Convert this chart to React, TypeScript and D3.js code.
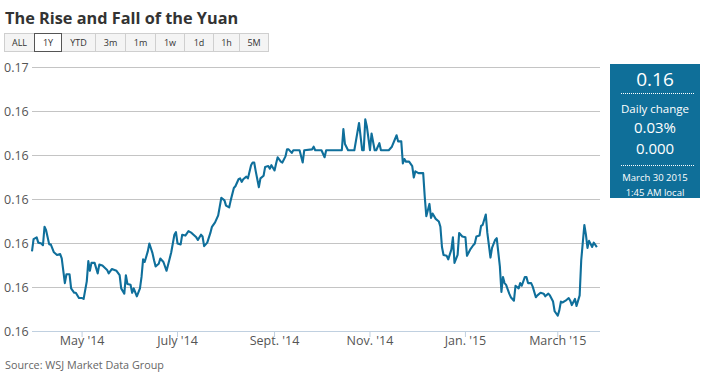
import React from "react";
import * as d3 from "d3";

const dates = [
  "2014-03-30","2014-03-31","2014-04-02","2014-04-03","2014-04-05","2014-04-06","2014-04-07","2014-04-08","2014-04-10","2014-04-11",
  "2014-04-13","2014-04-15","2014-04-17","2014-04-18","2014-04-20","2014-04-21","2014-04-23","2014-04-24","2014-04-26","2014-04-27",
  "2014-04-29","2014-05-01","2014-05-02","2014-05-04","2014-05-05","2014-05-06","2014-05-07","2014-05-09","2014-05-11","2014-05-12",
  "2014-05-14","2014-05-17","2014-05-18","2014-05-20","2014-05-23","2014-05-25","2014-05-26","2014-05-28","2014-05-29","2014-05-30",
  "2014-06-01","2014-06-02","2014-06-03","2014-06-05","2014-06-07","2014-06-08","2014-06-09","2014-06-10","2014-06-12","2014-06-13",
  "2014-06-15","2014-06-16","2014-06-17","2014-06-19","2014-06-20","2014-06-22","2014-06-24","2014-06-26","2014-06-27","2014-06-29",
  "2014-06-30","2014-07-01","2014-07-03","2014-07-04","2014-07-06","2014-07-08","2014-07-10","2014-07-13","2014-07-14","2014-07-16",
  "2014-07-17","2014-07-18","2014-07-20","2014-07-22","2014-07-23","2014-07-25","2014-07-27","2014-07-29","2014-07-31","2014-08-01",
  "2014-08-03","2014-08-04","2014-08-06","2014-08-07","2014-08-09","2014-08-10","2014-08-11","2014-08-12","2014-08-14","2014-08-15",
  "2014-08-17","2014-08-18","2014-08-19","2014-08-20","2014-08-22","2014-08-23","2014-08-25","2014-08-26","2014-08-28","2014-08-29",
  "2014-08-30","2014-09-01","2014-09-02","2014-09-03","2014-09-05","2014-09-06","2014-09-08","2014-09-09","2014-09-10","2014-09-12",
  "2014-09-13","2014-09-17","2014-09-19","2014-09-20","2014-09-25","2014-09-26","2014-09-27","2014-10-01","2014-10-03","2014-10-04",
  "2014-10-14","2014-10-15","2014-10-16","2014-10-18","2014-10-22","2014-10-25","2014-10-27","2014-10-28","2014-10-29","2014-10-30",
  "2014-11-01","2014-11-02","2014-11-04","2014-11-05","2014-11-07","2014-11-08","2014-11-13","2014-11-15","2014-11-18","2014-11-19",
  "2014-11-21","2014-11-22","2014-11-23","2014-11-24","2014-11-26","2014-11-28","2014-11-29","2014-11-30","2014-12-02","2014-12-05",
  "2014-12-06","2014-12-07","2014-12-09","2014-12-10","2014-12-11","2014-12-13","2014-12-15","2014-12-16","2014-12-17","2014-12-18",
  "2014-12-20","2014-12-21","2014-12-23","2014-12-24","2014-12-25","2014-12-27","2014-12-28","2014-12-30","2015-01-01","2015-01-02",
  "2015-01-04","2015-01-06","2015-01-07","2015-01-08","2015-01-10","2015-01-11","2015-01-12","2015-01-14","2015-01-15","2015-01-17",
  "2015-01-18","2015-01-20","2015-01-21","2015-01-23","2015-01-24","2015-01-25","2015-01-26","2015-01-27","2015-01-29","2015-01-30",
  "2015-02-01","2015-02-02","2015-02-04","2015-02-05","2015-02-06","2015-02-08","2015-02-09","2015-02-10","2015-02-12","2015-02-13",
  "2015-02-15","2015-02-16","2015-02-18","2015-02-20","2015-02-21","2015-02-23","2015-02-24","2015-02-26","2015-02-27","2015-03-01",
  "2015-03-02","2015-03-03","2015-03-04","2015-03-06","2015-03-08","2015-03-09","2015-03-10","2015-03-12","2015-03-13","2015-03-15",
  "2015-03-16","2015-03-18","2015-03-19","2015-03-20","2015-03-21","2015-03-23","2015-03-24","2015-03-26"
];

const values = [
  0.16041,0.16055,0.16057,0.16051,0.16050,0.16048,0.16069,0.16065,0.16049,0.16049,
  0.16040,0.16037,0.16038,0.16033,0.16005,0.16015,0.16015,0.15999,0.15994,0.15994,
  0.15988,0.15988,0.15987,0.16007,0.16030,0.16019,0.16028,0.16028,0.16016,0.16026,
  0.16025,0.16020,0.16016,0.16021,0.16019,0.16014,0.15999,0.15993,0.16014,0.16004,
  0.16003,0.15994,0.15999,0.15990,0.15999,0.16012,0.16032,0.16029,0.16041,0.16050,
  0.16039,0.16031,0.16024,0.16027,0.16033,0.16029,0.16019,0.16033,0.16040,0.16060,
  0.16063,0.16050,0.16049,0.16060,0.16059,0.16064,0.16062,0.16057,0.16054,0.16060,
  0.16058,0.16047,0.16051,0.16062,0.16069,0.16074,0.16082,0.16102,0.16099,0.16093,
  0.16091,0.16099,0.16113,0.16115,0.16123,0.16124,0.16120,0.16123,0.16126,0.16124,
  0.16139,0.16142,0.16142,0.16132,0.16114,0.16124,0.16127,0.16137,0.16138,0.16135,
  0.16139,0.16133,0.16141,0.16148,0.16143,0.16142,0.16149,0.16157,0.16157,0.16153,
  0.16156,0.16156,0.16142,0.16156,0.16157,0.16160,0.16156,0.16156,0.16148,0.16156,
  0.16156,0.16180,0.16163,0.16156,0.16156,0.16187,0.16156,0.16156,0.16191,0.16183,
  0.16156,0.16175,0.16156,0.16156,0.16164,0.16156,0.16156,0.16160,0.16173,0.16166,
  0.16166,0.16141,0.16146,0.16143,0.16143,0.16138,0.16125,0.16132,0.16130,0.16130,
  0.16103,0.16081,0.16095,0.16079,0.16084,0.16078,0.16075,0.16069,0.16046,0.16037,
  0.16036,0.16032,0.16043,0.16057,0.16028,0.16037,0.16062,0.16058,0.16057,0.16036,
  0.16043,0.16048,0.16050,0.16058,0.16059,0.16070,0.16071,0.16083,0.16062,0.16034,
  0.16045,0.16054,0.16056,0.16024,0.15995,0.16012,0.16005,0.16003,0.15993,0.15989,
  0.15985,0.16002,0.15999,0.16005,0.16002,0.16012,0.16012,0.16005,0.16005,0.16001,
  0.15989,0.15991,0.15994,0.15993,0.15990,0.15993,0.15991,0.15984,0.15973,0.15968,
  0.15974,0.15984,0.15983,0.15985,0.15988,0.15985,0.15980,0.15987,0.15979,0.15991,
  0.16031,0.16071,0.16060,0.16045,0.16053,0.16046,0.16051,0.16046
];

const yTicks = [0.1595, 0.16, 0.1605, 0.161, 0.1615, 0.162, 0.1625];
const yTickLabels = ["0.16", "0.16", "0.16", "0.16", "0.16", "0.16", "0.17"];
const xTickDates = ["2014-05-01", "2014-07-01", "2014-09-01", "2014-11-01", "2015-01-01", "2015-03-01"];
const xTickLabels = ["May '14", "July '14", "Sept. '14", "Nov. '14", "Jan. '15", "March '15"];
const buttons = ["ALL", "1Y", "YTD", "3m", "1m", "1w", "1d", "1h", "5M"];
const selectedButton = "1Y";
const title = "The Rise and Fall of the Yuan";
const source = "Source: WSJ Market Data Group";
const panelValue = "0.16";
const panelChangeLabel = "Daily change";
const panelChangePct = "0.03%";
const panelChangeAbs = "0.000";
const panelDate = "March 30 2015";
const panelTime = "1:45 AM local";

const FONT = "'Open Sans', 'Noto Sans', sans-serif";
const BLUE = "#0f6f99";

export default function App() {
  const parse = d3.utcParse("%Y-%m-%d");
  const data = dates.map((d, i) => ({ date: parse(d) as Date, value: values[i] }));

  const x = d3.scaleUtc()
    .domain([parse("2014-03-30") as Date, parse("2015-03-28") as Date])
    .range([32, 600]);
  const y = d3.scaleLinear().domain([0.1595, 0.1625]).range([331.5, 67.5]);

  const line = d3.line<{ date: Date; value: number }>()
    .x((d) => x(d.date))
    .y((d) => y(d.value))
    .curve(d3.curveLinear);

  const btnWidths = [30, 27, 34, 30, 30, 29, 29, 26, 29];
  let bx = 4.5;
  const btns = buttons.map((b, i) => {
    const r = { label: b, x: bx, w: btnWidths[i] };
    bx += btnWidths[i];
    return r;
  });

  return (
    <svg
      width={709}
      height={379}
      style={{ position: "absolute", left: 0, top: 0, background: "#fff" }}
      fontFamily={FONT}
    >
      <text x={5} y={24} fontSize={16.3} fontWeight={700} fill="#333">{title}</text>

      {btns.map((b) =>
        b.label !== selectedButton ? (
          <g key={b.label}>
            <rect x={b.x} y={33.5} width={b.w} height={18} fill="#f4f4f4" stroke="#cfcfcf" strokeWidth={1} />
            <text x={b.x + b.w / 2} y={46} fontSize={9} textAnchor="middle" fill="#333">{b.label}</text>
          </g>
        ) : null
      )}
      {btns.filter((b) => b.label === selectedButton).map((b) => (
        <g key={b.label}>
          <rect x={b.x} y={33.5} width={b.w} height={18} fill="#fff" stroke="#555" strokeWidth={1} />
          <text x={b.x + b.w / 2} y={46} fontSize={9} textAnchor="middle" fill="#333">{b.label}</text>
        </g>
      ))}

      {yTicks.map((t, i) => (
        <g key={i}>
          <line
            x1={32}
            x2={600}
            y1={y(t)}
            y2={y(t)}
            stroke={i === 0 ? "#c0d0e0" : "#c4c4c4"}
            strokeWidth={1}
          />
          <text x={4} y={y(t) + 4.5} fontSize={12.5} fill="#555">{yTickLabels[i]}</text>
        </g>
      ))}

      {xTickDates.map((d, i) => {
        const px = x(parse(d) as Date);
        return (
          <g key={d}>
            <line x1={px} x2={px} y1={331.5} y2={337} stroke="#c0d0e0" />
            <text x={px} y={345} fontSize={12.5} textAnchor="middle" fill="#555">{xTickLabels[i]}</text>
          </g>
        );
      })}

      <path d={line(data) || ""} fill="none" stroke="#0f6f9b" strokeWidth={2.1} strokeLinejoin="round" />

      <text x={5} y={369} fontSize={10.8} fill="#666">{source}</text>

      <rect x={610} y={64} width={90} height={134} fill={BLUE} />
      <text x={655} y={86} fontSize={19} textAnchor="middle" fill="#fff">{panelValue}</text>
      <line x1={621} x2={694} y1={93.5} y2={93.5} stroke="#fff" strokeDasharray="1,1" strokeWidth={1} />
      <text x={655} y={112.5} fontSize={11.5} textAnchor="middle" fill="#fff">{panelChangeLabel}</text>
      <text x={655} y={133} fontSize={15} textAnchor="middle" fill="#fff">{panelChangePct}</text>
      <text x={655} y={154} fontSize={15} textAnchor="middle" fill="#fff">{panelChangeAbs}</text>
      <line x1={621} x2={694} y1={165.5} y2={165.5} stroke="#fff" strokeDasharray="1,1" strokeWidth={1} />
      <text x={655} y={181} fontSize={9.5} textAnchor="middle" fill="#fff">{panelDate}</text>
      <text x={655} y={196} fontSize={9.5} textAnchor="middle" fill="#fff">{panelTime}</text>
    </svg>
  );
}
